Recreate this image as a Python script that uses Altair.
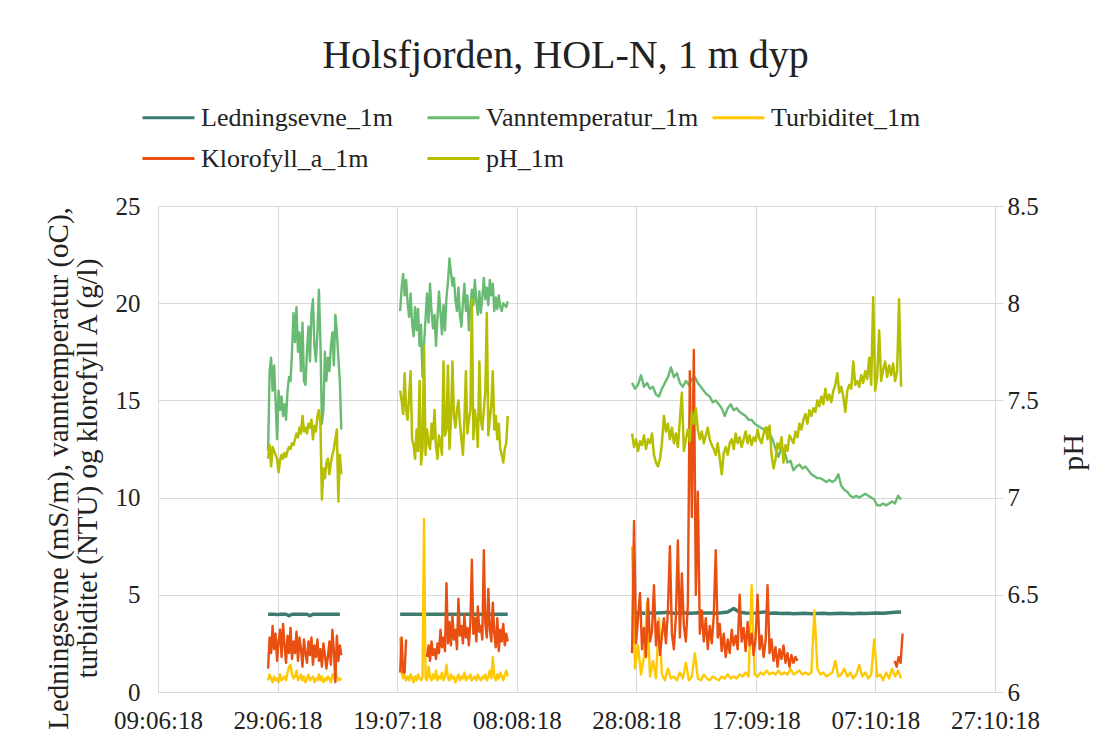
import altair as alt
import pandas as pd

FONT = "Liberation Serif"
TEXT = "#222222"
GRID = "#d9d9d9"

SERIES = ["Ledningsevne_1m", "Vanntemperatur_1m", "Turbiditet_1m", "Klorofyll_a_1m", "pH_1m"]
COLORS = ["#3d7b6f", "#69ba72", "#ffc800", "#e84f10", "#b5be00"]

TICK_DATES = [(2018, 6, 9), (2018, 6, 29), (2018, 7, 19), (2018, 8, 8),
              (2018, 8, 28), (2018, 9, 17), (2018, 10, 7), (2018, 10, 27)]
LEFT_TICKS = [0, 5, 10, 15, 20, 25]
RIGHT_TICKS = [6, 6.5, 7, 7.5, 8, 8.5]

# measurement periods (start time of each logged segment)
START_A = "2018-06-27 10:00"
START_B = "2018-07-19 12:00"
START_B2 = "2018-07-24 00:00"
START_C = "2018-08-27 07:00"
START_C2 = "2018-10-10 05:00"

# ---- Ledningsevne_1m (mS/m) ----
cond_A = [4.0, 4.0, 4.0, 3.98, 4.0, 4.0, 4.0, 3.92, 4.0, 4.0, 4.0, 4.0, 4.0,
          4.0, 3.92, 4.0, 4.0, 4.0, 4.0, 4.0, 4.0, 4.0, 4.0, 4.0, 4.0]
cond_B = [4.0, 4.0, 4.0, 4.0, 4.0, 4.0, 4.0, 4.0, 4.0, 4.0, 4.0, 4.0, 4.0,
          4.0, 4.0, 4.0, 4.0, 4.0, 4.0, 4.0, 4.0, 4.0, 4.0, 4.0, 4.02, 4.0,
          4.0, 4.0, 4.0, 4.0, 4.0, 4.0, 4.0, 4.0, 4.0, 4.0, 4.0]
cond_C = [4.10, 4.08, 4.05, 4.07, 4.06, 4.08, 4.10, 4.05, 4.07, 4.06, 4.05,
          4.08, 4.07, 4.06, 4.05, 4.08, 4.12, 4.30, 4.10, 4.06, 4.05, 4.07,
          4.12, 4.05, 4.06, 4.04, 4.05, 4.03, 4.04, 4.05, 4.03, 4.04, 4.05,
          4.03, 4.04, 4.05, 4.04, 4.03, 4.05, 4.04, 4.05, 4.06, 4.05, 4.08,
          4.10, 4.12]

# ---- Vanntemperatur_1m (oC) ----
temp_A = [12.4, 16.5, 17.2, 15.5, 16.8, 15.0, 13.0, 15.5, 14.5, 15.2,
          14.2, 14.8, 14.0, 15.5, 16.2, 16.0, 17.5, 19.5, 18.0, 19.8,
          17.5, 18.5, 16.5, 19.0, 16.0, 15.8, 17.5, 18.8, 17.0, 19.5,
          20.2, 17.8, 17.0, 18.5, 20.7, 18.0, 13.8, 14.5, 17.5, 16.0,
          17.2, 16.5, 17.8, 18.5, 16.8, 19.4, 18.5, 17.2, 16.0, 13.5]
temp_B = [19.6, 20.8, 21.5, 20.4, 21.2, 20.0, 19.3, 20.5, 19.0, 18.3,
          19.8, 18.6, 19.7, 17.8, 18.9, 16.2, 17.9, 19.2, 20.5, 19.0,
          21.0, 19.6, 18.7, 19.4, 17.8, 19.3, 20.6, 19.5, 18.4, 19.9,
          18.6, 20.3, 21.1, 22.3, 21.6, 20.9, 21.3, 20.2, 19.6, 20.8,
          19.4, 18.8, 20.0, 21.0, 19.6, 20.4, 18.6, 19.8, 20.7, 19.9,
          21.2, 20.1, 19.4, 20.6, 19.5, 20.3, 21.3, 20.2, 20.8, 19.9,
          21.2, 20.4, 21.0, 19.6, 20.3, 19.7, 20.4, 19.8, 19.6, 20.0,
          19.9, 19.8, 20.1]
temp_C = [15.9, 15.6, 15.8, 16.3, 15.7, 15.9, 15.6, 15.7, 15.3, 15.2,
          15.6, 15.9, 16.2, 16.7, 16.2, 16.4, 15.9, 15.7, 16.0, 15.8,
          16.1, 16.2, 15.9, 15.7, 15.5, 15.3, 15.2, 14.9, 15.0, 14.8,
          14.6, 14.2, 14.6, 14.8, 14.5, 14.6, 14.4, 14.3, 14.2, 14.0,
          14.0, 13.8, 13.7, 13.6, 13.5, 13.6, 13.3, 13.0, 12.5, 12.1,
          12.6, 12.4, 11.8, 11.9, 11.4, 11.6, 11.7, 11.5, 11.6, 11.4,
          11.2, 11.1, 11.0, 11.0, 10.9, 10.8, 10.9, 10.8, 10.9, 11.2,
          10.6, 10.4, 10.3, 10.1, 10.0, 10.1, 10.0, 10.1, 10.2, 10.1,
          10.0, 9.9, 9.6, 9.6, 9.7, 9.6, 9.7, 9.8, 9.7, 10.1, 9.9]

# ---- Turbiditet_1m (NTU) ----
turb_A = [0.6, 0.9, 0.7, 0.5, 0.8, 0.6, 0.7, 0.5, 0.9, 0.6,
          0.7, 0.8, 0.6, 1.0, 1.3, 1.4, 0.9, 0.7, 0.8, 1.1,
          0.6, 0.7, 0.9, 0.6, 0.8, 0.5, 0.7, 0.9, 0.6, 0.7,
          0.8, 0.5, 0.7, 0.6, 0.9, 0.6, 0.8, 0.5, 0.7, 0.6,
          0.8, 0.7, 0.5, 0.9, 0.7, 1.1, 0.8, 0.6, 0.7, 0.6]
turb_B = [2.8, 1.0, 0.7, 0.9, 0.6, 0.8, 0.6, 0.9, 0.7, 0.5,
          0.8, 0.6, 0.9, 0.7, 0.6, 0.8, 8.9, 0.7, 0.6, 1.3,
          0.8, 0.6, 0.9, 0.7, 1.1, 0.6, 0.8, 0.7, 1.0, 0.6,
          0.8, 1.4, 0.7, 0.6, 0.9, 0.7, 0.8, 0.5, 0.7, 0.9,
          0.6, 0.8, 0.7, 1.0, 0.6, 0.8, 0.7, 0.9, 0.6, 0.7,
          0.8, 0.6, 0.9, 0.7, 0.6, 0.8, 0.7, 0.9, 0.6, 0.8,
          1.1, 0.7, 1.8, 0.8, 0.6, 0.9, 0.7, 1.0, 0.8, 0.6,
          0.9, 1.1, 0.8]
turb_C = [7.5, 1.2, 2.4, 0.9, 1.8, 4.6, 0.8, 1.6, 0.7, 3.8,
          0.9, 0.6, 1.2, 0.7, 0.8, 0.6, 1.0, 0.7, 1.5, 0.6,
          0.8, 2.0, 0.7, 0.6, 0.9, 0.7, 0.6, 0.8, 0.7, 0.6,
          0.8, 0.7, 0.9, 0.7, 0.8, 0.7, 0.9, 0.8, 1.0, 0.8,
          5.5, 0.9, 0.8, 1.0, 0.9, 1.1, 0.9, 1.0, 0.9, 1.1,
          0.9, 1.0, 0.9, 1.2, 0.9, 1.0, 1.1, 0.9, 1.0, 0.9,
          1.0, 4.2, 1.2, 0.9, 1.0, 0.8, 0.9, 1.0, 1.6, 0.8,
          0.9, 1.2, 0.8, 1.0, 0.7, 0.9, 1.4, 0.8, 1.0, 0.7,
          0.9, 2.7, 0.8, 0.9, 0.6, 1.0, 0.7, 1.2, 0.8, 1.1, 0.7]

# ---- Klorofyll_a_1m ----
chl_A = [1.2, 2.8, 2.0, 3.4, 2.2, 3.0, 1.6, 2.6, 3.2, 1.8,
         3.5, 2.4, 1.5, 2.9, 2.0, 3.3, 1.7, 2.6, 2.0, 3.1,
         1.6, 2.8, 2.2, 1.3, 2.7, 2.0, 1.5, 2.6, 1.9, 2.8,
         1.4, 2.4, 1.8, 2.7, 1.6, 2.2, 1.3, 2.5, 1.9, 1.2,
         1.8, 2.6, 1.4, 3.2, 2.1, 0.5, 2.9, 1.6, 2.4, 1.9]
chl_B1 = [1.0, 2.8, 1.0, 1.0, 2.7]
chl_B2 = [1.8, 2.4, 1.6, 2.6, 1.9, 2.2, 1.7, 2.5, 2.0, 3.2,
          2.3, 2.8, 2.1, 5.6, 2.5, 3.6, 2.4, 3.9, 2.7, 3.2,
          2.2, 4.8, 2.9, 3.4, 2.5, 4.0, 2.8, 3.3, 2.4, 3.6,
          6.8, 3.0, 3.8, 2.6, 4.4, 3.1, 3.4, 2.7, 7.3, 3.5,
          2.8, 5.3, 3.2, 2.6, 4.6, 3.0, 2.3, 3.8, 2.1, 3.2,
          2.6, 3.5, 2.4, 3.0, 2.6]
chl_C1 = [2.0, 8.8, 2.5, 3.8, 5.1, 2.2, 3.3, 1.8, 4.8, 2.6,
          3.1, 5.5, 2.4, 3.6, 1.9, 2.9, 3.8, 2.5, 4.2, 7.5,
          3.0, 2.2, 3.9, 7.8, 2.8, 6.1, 3.4, 2.6, 4.5, 16.5,
          9.0, 17.6, 5.0, 10.3, 3.0, 4.2, 2.6, 3.8, 2.2, 3.4,
          2.5, 3.9, 7.3, 2.8, 3.5, 2.1, 3.0, 1.8, 2.7, 2.0,
          3.2, 2.4, 2.9, 2.2, 5.0, 2.6, 3.3, 2.1, 3.6, 2.4,
          3.0, 1.9, 2.8, 5.0, 2.2, 2.9, 1.8, 2.6, 5.5, 2.0,
          2.7, 1.6, 2.3, 1.3, 2.2, 1.7, 2.4, 1.5, 2.0, 1.3,
          1.9, 1.5, 1.8, 1.6]
chl_C2 = [1.6, 1.3, 1.8, 1.5, 3.0]

# ---- pH_1m ----
ph_A = [7.20, 7.27, 7.16, 7.26, 7.24, 7.22, 7.20, 7.13, 7.19, 7.22,
        7.20, 7.23, 7.21, 7.24, 7.26, 7.25, 7.28, 7.27, 7.30, 7.33,
        7.31, 7.36, 7.33, 7.42, 7.34, 7.36, 7.33, 7.38, 7.36, 7.40,
        7.30, 7.37, 7.34, 7.42, 7.45, 7.38, 6.99, 7.15, 7.10, 7.18,
        7.20, 7.12, 7.18, 7.22, 7.25, 7.30, 7.35, 6.98, 7.22, 7.12]
ph_B = [7.55, 7.50, 7.43, 7.64, 7.45, 7.40, 7.52, 7.65, 7.30, 7.27,
        7.20, 7.35, 7.24, 7.60, 7.17, 7.25, 7.78, 7.22, 7.35, 7.28,
        7.25, 7.38, 7.30, 7.45, 7.26, 7.20, 7.32, 7.28, 7.22, 7.70,
        7.32, 7.35, 7.68, 7.25, 7.40, 7.70, 7.42, 7.36, 7.45, 7.50,
        7.38, 7.30, 7.22, 7.40, 7.65, 7.33, 7.40, 7.45, 8.02, 7.30,
        7.45, 7.38, 7.26, 7.70, 7.40, 7.35, 7.45, 7.55, 7.95, 7.32,
        7.40, 7.48, 7.65, 7.35, 7.42, 7.30, 7.38, 7.25, 7.22, 7.18,
        7.25, 7.28, 7.42]
ph_C = [7.33, 7.26, 7.30, 7.24, 7.29, 7.27, 7.32, 7.25, 7.30, 7.28,
        7.33, 7.22, 7.18, 7.16, 7.20, 7.28, 7.42, 7.34, 7.38, 7.30,
        7.36, 7.28, 7.33, 7.26, 7.40, 7.54, 7.24, 7.30, 7.35, 7.29,
        7.44, 7.38, 7.46, 7.35, 7.30, 7.34, 7.28, 7.32, 7.36, 7.30,
        7.27, 7.25, 7.22, 7.28, 7.20, 7.12, 7.23, 7.26, 7.22, 7.28,
        7.30, 7.25, 7.33, 7.28, 7.31, 7.26, 7.30, 7.34, 7.28, 7.32,
        7.27, 7.31, 7.29, 7.35, 7.30, 7.28, 7.33, 7.36, 7.30, 7.37,
        7.22, 7.15, 7.20, 7.28, 7.25, 7.31, 7.18, 7.27, 7.24, 7.32,
        7.30, 7.28, 7.34, 7.31, 7.38, 7.35, 7.40, 7.43, 7.38, 7.45,
        7.42, 7.46, 7.44, 7.50, 7.47, 7.52, 7.48, 7.56, 7.50, 7.53,
        7.49, 7.55, 7.58, 7.64, 7.54, 7.57, 7.52, 7.44, 7.55, 7.58,
        7.56, 7.70, 7.58, 7.60, 7.57, 7.63, 7.59, 7.65, 7.61, 7.72,
        7.58, 8.03, 7.55, 7.62, 7.86, 7.60, 7.66, 7.70, 7.62, 7.68,
        7.63, 7.69, 7.60, 7.65, 8.02, 7.57]

# (series, segment, start, logging interval in hours, values)
LEFT_PIECES = [
    ("Ledningsevne_1m", "A", START_A, 12, cond_A),
    ("Ledningsevne_1m", "B", START_B, 12, cond_B),
    ("Ledningsevne_1m", "C", START_C, 24, cond_C),
    ("Vanntemperatur_1m", "A", START_A, 6, temp_A),
    ("Vanntemperatur_1m", "B", START_B, 6, temp_B),
    ("Vanntemperatur_1m", "C", START_C, 12, temp_C),
    ("Turbiditet_1m", "A", START_A, 6, turb_A),
    ("Turbiditet_1m", "B", START_B, 6, turb_B),
    ("Turbiditet_1m", "C", START_C, 12, turb_C),
    ("Klorofyll_a_1m", "A", START_A, 6, chl_A),
    ("Klorofyll_a_1m", "B1", START_B, 6, chl_B1),
    ("Klorofyll_a_1m", "B2", START_B2, 6, chl_B2),
    ("Klorofyll_a_1m", "C1", START_C, 8, chl_C1),
    ("Klorofyll_a_1m", "C2", START_C2, 8, chl_C2),
]
RIGHT_PIECES = [
    ("pH_1m", "A", START_A, 6, ph_A),
    ("pH_1m", "B", START_B, 6, ph_B),
    ("pH_1m", "C", START_C, 8, ph_C),
]


def build(pieces):
    rows = []
    for name, seg, start, step, values in pieces:
        t0 = pd.Timestamp(start)
        for i, v in enumerate(values):
            rows.append({"time": t0 + pd.Timedelta(hours=step * i),
                         "value": v, "series": name, "seg": name + seg})
    return pd.DataFrame(rows)


df_left = build(LEFT_PIECES)
df_right = build(RIGHT_PIECES)


def dt(t):
    return alt.DateTime(year=t[0], month=t[1], date=t[2])


x_enc = alt.X(
    "time:T",
    scale=alt.Scale(domain=[dt(TICK_DATES[0]), dt(TICK_DATES[-1])]),
    axis=alt.Axis(values=[dt(t) for t in TICK_DATES], format="%d:%m:%y", title=None,
                  grid=True, gridColor=GRID, domainColor=GRID, ticks=False,
                  labelFont=FONT, labelFontSize=25, labelColor=TEXT, labelPadding=16,
                  labelFlush=False, labelOverlap=False),
)

color_enc = alt.Color(
    "series:N",
    scale=alt.Scale(domain=SERIES, range=COLORS),
    legend=alt.Legend(title=None, orient="none", legendX=-17, legendY=-116,
                      columns=3, direction="horizontal", symbolType="stroke",
                      symbolSize=2704, symbolStrokeWidth=3, labelFont=FONT,
                      labelFontSize=26, labelColor=TEXT, labelOffset=5,
                      columnPadding=7, rowPadding=-8, gridAlign="all", labelLimit=500),
)

left = alt.Chart(df_left).mark_line(strokeJoin="round").encode(
    x=x_enc,
    y=alt.Y("value:Q", scale=alt.Scale(domain=[0, 25], nice=False),
            axis=alt.Axis(values=LEFT_TICKS, format="d", grid=True, gridColor=GRID,
                          domainColor=GRID, ticks=False, labelFont=FONT, labelFontSize=25,
                          labelColor=TEXT, labelPadding=18,
                          title=["Ledningsevne (mS/m), vanntemperatur (oC),",
                                 "turbiditet (NTU) og klorofyll A (g/l)"],
                          titleFont=FONT, titleFontSize=29, titleFontWeight="normal",
                          titleColor=TEXT, titleAngle=270, titleX=-100, titleY=262,
                          titleAlign="center", titleBaseline="middle", titleLineHeight=29)),
    color=color_enc,
    detail="seg:N",
    strokeWidth=alt.condition("datum.series === 'Ledningsevne_1m'", alt.value(3.5), alt.value(2.4)),
)

right = alt.Chart(df_right).mark_line(strokeJoin="round", strokeWidth=2.5).encode(
    x=x_enc,
    y=alt.Y("value:Q", scale=alt.Scale(domain=[6, 8.5], nice=False),
            axis=alt.Axis(orient="right", values=RIGHT_TICKS, format="~g", grid=False,
                          domainColor=GRID, tickColor=GRID, tickSize=8, labelFont=FONT,
                          labelFontSize=25, labelColor=TEXT, labelPadding=4,
                          title="pH", titleFont=FONT, titleFontSize=30,
                          titleFontWeight="normal", titleColor=TEXT, titleAngle=270,
                          titleX=78, titleY=246, titleAlign="center", titleBaseline="middle")),
    color=color_enc,
    detail="seg:N",
)

chart = alt.layer(left, right).resolve_scale(y="independent").properties(
    width=837, height=486,
    title=alt.TitleParams("Holsfjorden, HOL-N, 1 m dyp", font=FONT, fontSize=40,
                          fontWeight="normal", color=TEXT, anchor="middle", dx=-11, offset=14),
    padding={"left": 150, "top": 198, "right": 104, "bottom": 42},
    autosize=alt.AutoSizeParams(type="none"),
    background="white",
).configure_view(stroke=GRID)

chart.save("out.html", embed_options={"renderer": "svg", "actions": False})
